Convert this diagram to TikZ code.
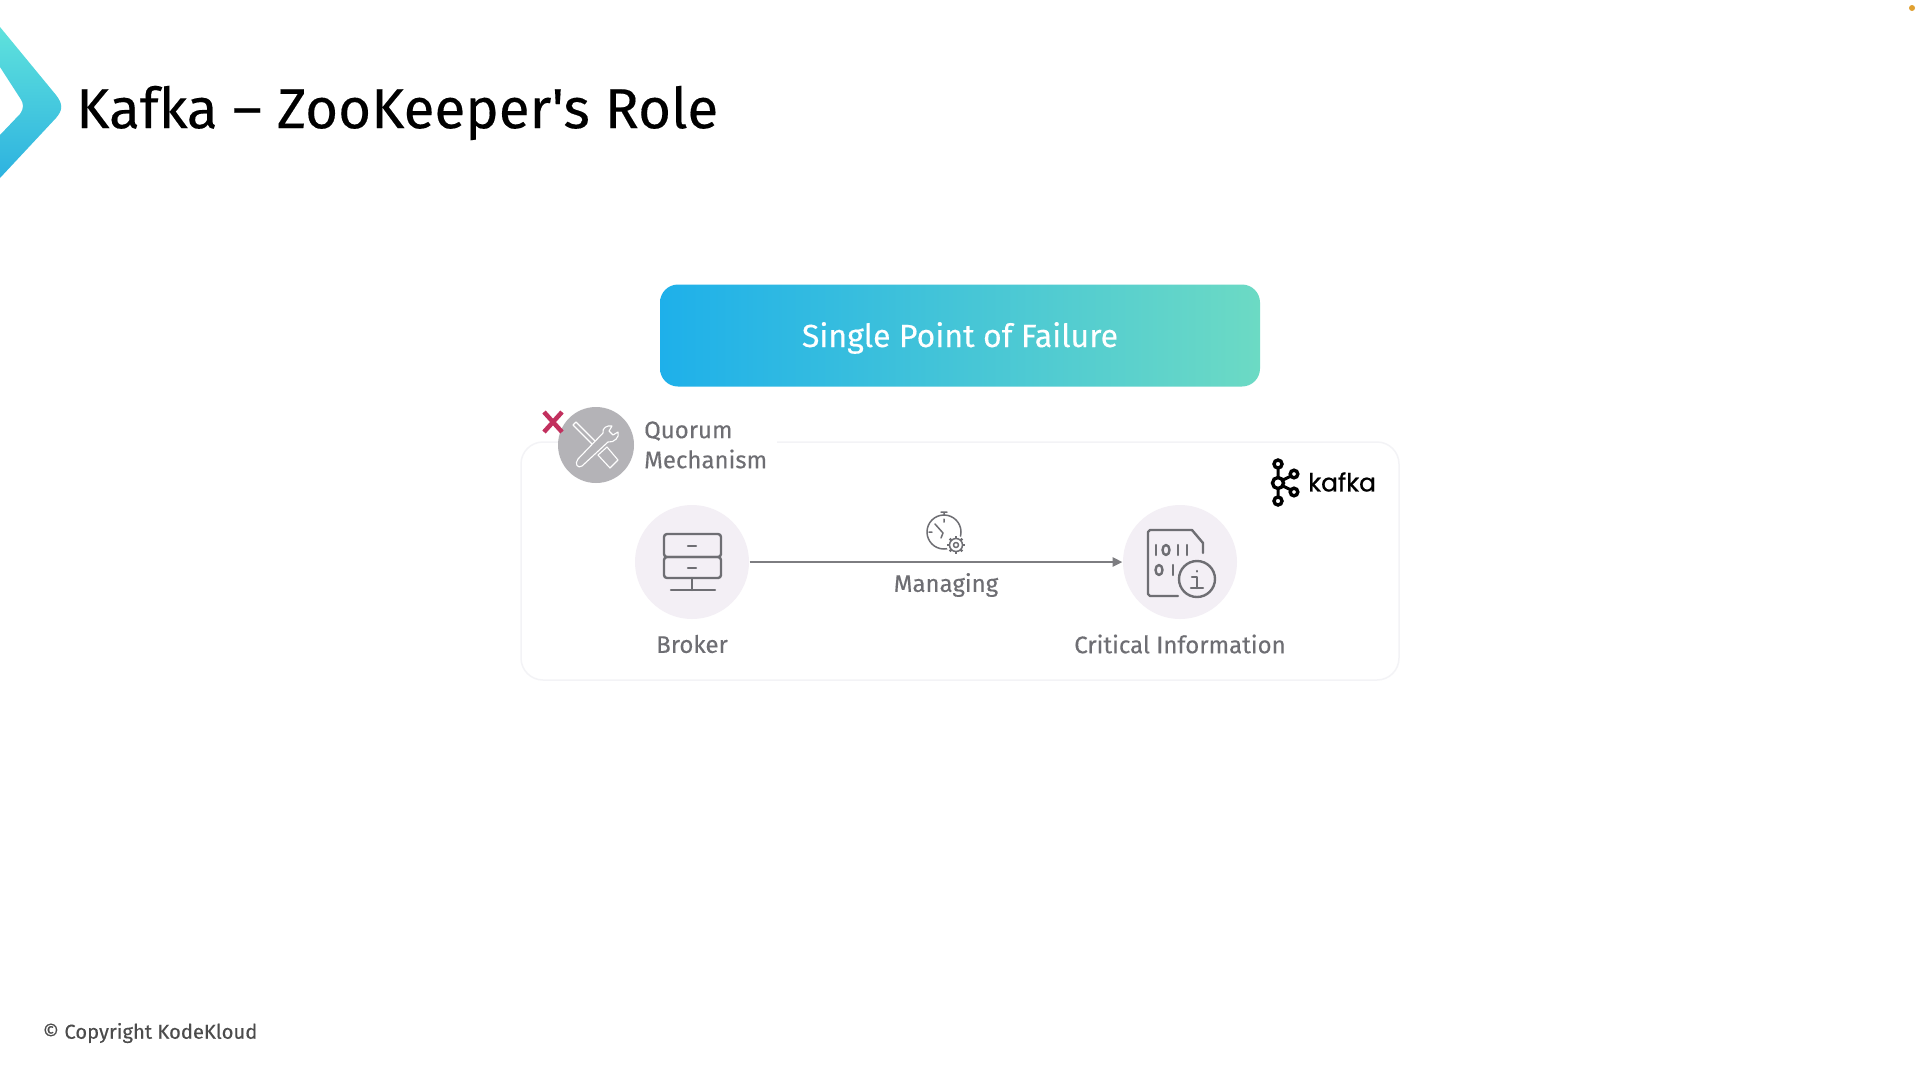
\documentclass[tikz,border=0pt]{standalone}
\usepackage{fontspec}
\setmainfont{Fira Sans}
\newfontfamily\titlefont[FakeBold=0.25]{Fira Sans}
\newfontfamily\logofont[FakeBold=0.8]{Poppins}
\usetikzlibrary{arrows.meta}
\definecolor{inkgrey}{HTML}{6E6E73}
\definecolor{panelline}{HTML}{F3F3F6}
\definecolor{discfill}{HTML}{F3EFF5}
\definecolor{toolfill}{HTML}{B4B3B7}
\definecolor{crosscol}{HTML}{C2305E}
\definecolor{dotcol}{HTML}{E0A030}
\tikzset{
	disc/.style={circle,fill=discfill,minimum size=114pt,inner sep=0pt,outer sep=0.5pt},
	caption/.style={text=inkgrey,font=\titlefont\fontsize{24}{29}\selectfont,inner sep=0pt},
	icon/.style={draw=inkgrey,line width=2.4pt,line join=round,line cap=round},
	thinicon/.style={draw=inkgrey,line width=1.5pt,line join=round,line cap=round},
	toolline/.style={draw=white,line width=1.1pt,line join=round,line cap=round},
}
\begin{document}
\begin{tikzpicture}[x=1pt,y=-1pt]
	\useasboundingbox (0,0) rectangle (1920,1080);
	\fill[white] (0,0) rectangle (1920,1080);
	% title
	\shade[top color={rgb,255:red,95;green,226;blue,220},bottom color={rgb,255:red,45;green,178;blue,224}]
	(0,27) -- (0,67) -- (20,98) .. controls (24,104) and (24,108) .. (20,114) -- (0,135) -- (0,178)
	-- (56,118) .. controls (63,110) and (63,104) .. (56,95) -- cycle;
	\node[anchor=west,inner sep=0pt,font=\titlefont\fontsize{56.5}{68}\selectfont] (title) at (76,113) {Kafka – ZooKeeper's Role};
	\fill[dotcol] (1912,8) circle (3);
	% panel
	\draw[panelline,line width=1.5pt,rounded corners=22pt] (521,442) rectangle (1399,680);
	\fill[white] (570,430) rectangle (777,450);
	% banner
	\node[rounded corners=18pt,minimum width=600pt,minimum height=102pt,inner sep=0pt,
	left color={rgb,255:red,30;green,176;blue,234},middle color={rgb,255:red,62;green,198;blue,228},right color={rgb,255:red,108;green,218;blue,196},
	text=white,font=\titlefont\fontsize{32}{38}\selectfont] (banner) at (960,335.5) {\raisebox{-11.5pt}[0pt][0pt]{Single Point of Failure}};
	% quorum
	\node[circle,fill=toolfill,minimum size=76pt,inner sep=0pt] (quorum) at (596,445) {};
	\draw[toolline] (573,425) -- (576,422) -- (601,447) -- (598,450) -- cycle;
	\draw[toolline] (598,455) -- (607,447) -- (618,460) -- (610,468) -- cycle;
	\draw[fill=toolfill,toolline] (612,426) -- (609,431) -- (613,435) -- (618,432) .. controls (620,437) and (614,443) .. (608,442) -- (582,466) .. controls (578,469) and (574,464) .. (578,459) -- (603,433) .. controls (602,428) and (607,425) .. (612,426) -- cycle;
	\draw[line width=4.5pt,color=crosscol] (544,412) -- (562,432) (562,412) -- (544,432);
	\node[caption,anchor=west] (quorumtext) at (644,431) {Quorum};
	\node[caption,anchor=west] (quorumtextb) at (644,459) {Mechanism};
	% broker
	\node[disc] (broker) at (692,562) {};
	\node[caption] (brokertext) at (692,644) {Broker};
	\draw[icon,rounded corners=3pt] (664,534) rectangle (721,557);
	\draw[icon,rounded corners=3pt] (664,557) rectangle (721,578);
	\draw[icon] (688,546) -- (696,546) (688,568) -- (696,568) (692,578) -- (692,590) (671,590) -- (715,590);
	% information
	\node[disc] (info) at (1180,562) {};
	\node[caption] (infotext) at (1180,644) {Critical Information};
	\draw[icon] (1178,596) -- (1150,596) -- (1148,594) -- (1148,532) -- (1150,530) -- (1192,530) -- (1203,543) -- (1203,553);
	\draw[icon] (1156,545) -- (1156,555) (1178,545) -- (1178,555) (1187,545) -- (1187,555) (1173,565) -- (1173,575);
	\draw[icon] (1166,550) circle (3.5 and 5) (1159,570) circle (3.5 and 5);
	\draw[icon] (1197,579) circle (18);
	\draw[icon] (1197,571) -- (1197,571.5) (1192,577) -- (1197,577) -- (1197,588) (1191,588) -- (1203,588);
	% managing
	\draw[thinicon] (944,532) circle (17) (944,515) -- (944,512) (941,512) -- (947,512);
	\draw[thinicon] (935,524) -- (943,533) -- (941,538) (944,519) -- (944,522) (929,532) -- (932,532);
	\node[circle,fill=white,minimum size=19pt,inner sep=0pt] (gearbg) at (956,545) {};
	\foreach \a in {0,45,...,315} \draw[thinicon,line width=2.4pt,line cap=butt] (956,545) ++(\a:6.5) -- ++(\a:2.5);
	\draw[thinicon] (956,545) circle (6.5) (956,545) circle (2.5);
	\node[caption] (managingtext) at (946,585) {Managing};
	\draw[line width=2.8pt,color=inkgrey!90!white,-{Triangle[length=10pt,width=9pt]}] (broker) -- (info);
	% kafka logo
	\foreach \x/\y/\s in {1278/464/4,1278/501/4,1278/483/5.5,1294/474/3.8,1294/492/3.8} \draw[line width=3.4pt] (\x,\y) circle (\s);
	\draw[line width=3pt] (1278,468) -- (1278,477) (1278,489) -- (1278,497) (1283,480) -- (1291,476) (1283,486) -- (1291,490);
	\node[anchor=west,inner sep=0pt,font=\logofont\fontsize{25}{30}\selectfont] (kafkatext) at (1308,482) {kafka};
	% footer
	\node[anchor=west,inner sep=0pt,text=black!70,font=\titlefont\fontsize{20.2}{24}\selectfont] (copyright) at (42.5,1033) {© Copyright KodeKloud};
\end{tikzpicture}
\end{document}
